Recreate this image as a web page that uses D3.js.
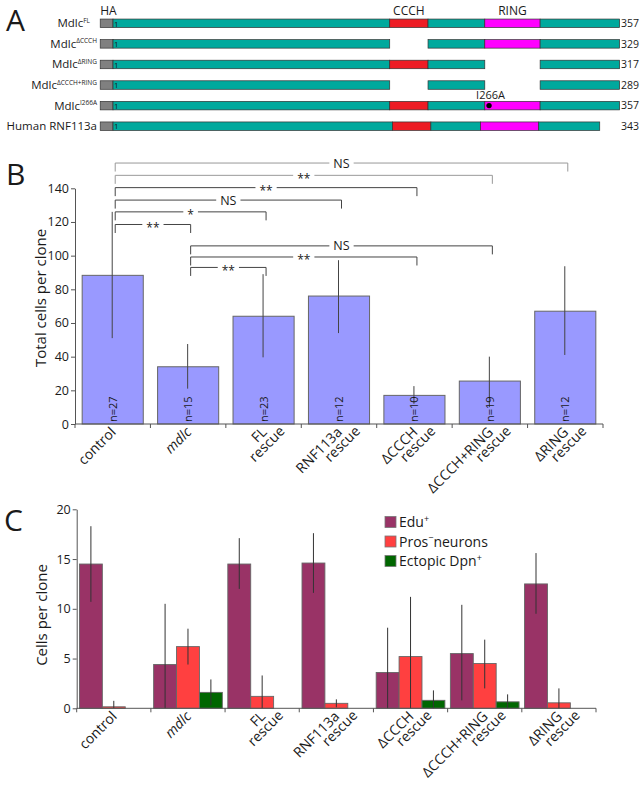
<!DOCTYPE html>
<html><head><meta charset="utf-8">
<script src="https://cdn.jsdelivr.net/npm/d3@7"></script>
<style>
body{margin:0;background:#fff}
svg{display:block}
text{font-family:'Open Sans',sans-serif;fill:#1a1a1a}
</style>
</head><body>
<svg id="c" width="641" height="789"></svg>
<script>
// ---------------- Panel A data ----------------
const constructBase = ["Mdlc","Mdlc","Mdlc","Mdlc","Mdlc","Human RNF113a"];
const constructSup = ["FL","ΔCCCH","ΔRING","ΔCCCH+RING","I266A",""];
const constructLength = [357,329,317,289,357,343];
const haLength = 9;
const constructSegments = [
  [[0,195,"linker"],[195,222,"CCCH"],[222,262,"linker"],[262,301,"RING"],[301,357,"linker"]],
  [[0,195,"linker"],[222,262,"linker"],[262,301,"RING"],[301,357,"linker"]],
  [[0,195,"linker"],[195,222,"CCCH"],[222,262,"linker"],[301,357,"linker"]],
  [[0,195,"linker"],[222,262,"linker"],[301,357,"linker"]],
  [[0,195,"linker"],[195,222,"CCCH"],[222,262,"linker"],[262,301,"RING"],[301,357,"linker"]],
  [[0,197,"linker"],[197,224,"CCCH"],[224,259,"linker"],[259,300,"RING"],[300,343,"linker"]]
];
const domainLabels = ["CCCH","RING"];
const domainLabelPos = [208.5,281.5];
const mutationRow = 4, mutationSite = 265, mutationLabel = "I266A";

// ---------------- Panel B data ----------------
const categories = ["control","mdlc","FL\nrescue","RNF113a\nrescue","ΔCCCH\nrescue","ΔCCCH+RING\nrescue","ΔRING\nrescue"];
const totalCells = [88.3,34,64,76,17,25.5,67];
const totalErrLow = [51,21,39.6,54,12,10,41];
const totalErrHigh = [126,47.5,89,97.3,22.5,40,93.7];
const cloneN = [27,15,23,12,10,19,12];
const yTicksB = [0,20,40,60,80,100,120,140];
const compFrom = [0,0,0,0,0,0,1,1,1];
const compTo = [6,5,4,3,2,1,5,4,2];
const compLevel = [155,147.7,140.4,133,126,118.5,105.8,99.2,93];
const compLabel = ["NS","**","**","NS","*","**","NS","**","**"];

// ---------------- Panel C data ----------------
const seriesKeys = ["edu","pros","dpn"];
const eduValues = [14.5,4.4,14.5,14.6,3.6,5.5,12.5];
const prosValues = [0.15,6.2,1.2,0.5,5.2,4.5,0.55];
const dpnValues = [0,1.6,0,0,0.8,0.65,0];
const eduErrLow = [10.7,0,12.0,11.6,0,0.8,9.5];
const eduErrHigh = [18.3,10.5,17.1,17.6,8.1,10.4,15.6];
const prosErrLow = [0,4.4,0,0.1,0,2.0,0];
const prosErrHigh = [0.75,8.0,3.3,0.9,11.2,6.9,2.0];
const dpnErrLow = [0,0.3,0,0,0,0,0];
const dpnErrHigh = [0,2.9,0,0,1.8,1.4,0];
const yTicksC = [0,5,10,15,20];

// ---------------- drawing ----------------
const svg = d3.select("#c");
const AX = "#555";

function panelLetter(t,x,y){
  svg.append("text").attr("x",x).attr("y",y).attr("font-size",30).text(t);
}

// ===== Panel A =====
panelLetter("A",6,31);
const gA = svg.append("g");
const xA = d3.scaleLinear().domain([0,357]).range([113,619.6]);
const yA = d3.scalePoint().domain(d3.range(constructBase.length)).range([23.3,126.2]);
const barH = 8.5;
const colorA = {HA:"#808080", linker:"#00A99D", CCCH:"#ED1C24", RING:"#FF00FF"};

gA.append("text").attr("x",xA(-haLength)).attr("y",14.5).attr("font-size",12).text("HA");
domainLabels.forEach((d,i)=>{
  gA.append("text").attr("x",xA(domainLabelPos[i])).attr("y",14.5).attr("text-anchor","middle").attr("font-size",12).text(d);
});

constructBase.forEach((name,i)=>{
  const cy = yA(i);
  const t = gA.append("text").attr("x",i===0 ? 90 : 97).attr("y",cy+4).attr("text-anchor","end").attr("font-size",11.5);
  t.append("tspan").text(name);
  if(constructSup[i]) t.append("tspan").attr("font-size",6.5).attr("dy",-4.5).text(constructSup[i]);
  gA.append("rect").attr("x",xA(-haLength)).attr("y",cy-barH/2).attr("width",xA(0)-xA(-haLength)).attr("height",barH)
    .attr("fill",colorA.HA).attr("stroke","#333").attr("stroke-width",0.7);
  constructSegments[i].forEach(s=>{
    gA.append("rect").attr("x",xA(s[0])).attr("y",cy-barH/2).attr("width",xA(s[1])-xA(s[0])).attr("height",barH)
      .attr("fill",colorA[s[2]]).attr("stroke","#333").attr("stroke-width",0.7);
  });
  gA.append("text").attr("x",xA(0)+1).attr("y",cy+3.2).attr("font-size",8).text("1");
  gA.append("text").attr("x",639).attr("y",cy+3.8).attr("text-anchor","end").attr("font-size",10.5).text(constructLength[i]);
});
gA.append("circle").attr("cx",xA(mutationSite)).attr("cy",yA(mutationRow)).attr("r",2.7).attr("fill","#000");
gA.append("text").attr("x",xA(mutationSite)+1.5).attr("y",yA(mutationRow)-6.5).attr("text-anchor","middle").attr("font-size",11).text(mutationLabel);

// ===== shared helpers =====
function xLabels(g, centerOf, axisY){
  categories.forEach((c,i)=>{
    const cx = centerOf(c);
    c.split("\n").forEach((ln,j)=>{
      g.append("text")
        .attr("transform",`translate(${cx+4+j*18},${axisY+9-j})rotate(-45)`)
        .attr("text-anchor","end").attr("font-size",14)
        .style("font-style", i===1 ? "italic" : null)
        .text(ln);
    });
  });
}
function styleAxis(sel){
  sel.selectAll("path,line").attr("stroke",AX).attr("stroke-width",1);
  sel.selectAll("text").attr("font-size",12.5).style("font-family","'Open Sans',sans-serif").attr("fill","#1a1a1a");
}

// ===== Panel B =====
panelLetter("B",6,185);
const gB = svg.append("g");
const yB = d3.scaleLinear().domain([0,140]).range([424,188.3]);
const xB = d3.scaleBand().domain(categories).range([75,603]).paddingInner(0.19).paddingOuter(0.095);
const cB = c => xB(c)+xB.bandwidth()/2;

gB.append("g").attr("transform","translate(75,0)")
  .call(d3.axisLeft(yB).tickValues(yTicksB).tickSize(4).tickSizeOuter(0).tickPadding(2))
  .call(styleAxis);

gB.selectAll("rect.bar").data(categories).enter().append("rect")
  .attr("x",c=>xB(c)).attr("width",xB.bandwidth())
  .attr("y",(c,i)=>yB(totalCells[i])).attr("height",(c,i)=>yB(0)-yB(totalCells[i]))
  .attr("fill","#9999FF").attr("stroke","#666").attr("stroke-width",1);

categories.forEach((c,i)=>{
  gB.append("line").attr("x1",cB(c)-0.5).attr("x2",cB(c)-0.5)
    .attr("y1",yB(totalErrLow[i])).attr("y2",yB(totalErrHigh[i])).attr("stroke","#444").attr("stroke-width",1);
  gB.append("text").attr("transform",`translate(${cB(c)+4},${yB(0)-2})rotate(-90)`)
    .attr("font-size",11).attr("fill","#333").text("n="+cloneN[i]);
});

const stepB = xB.step();
gB.append("line").attr("x1",75).attr("x2",603).attr("y1",yB(0)).attr("y2",yB(0)).attr("stroke",AX);
d3.range(categories.length+1).forEach(k=>{
  const xx = 75 + k*stepB;
  gB.append("line").attr("x1",xx).attr("x2",xx).attr("y1",yB(0)).attr("y2",yB(0)+4).attr("stroke",AX);
});
xLabels(gB, cB, yB(0));

gB.append("text").attr("transform","translate(46,298)rotate(-90)").attr("text-anchor","middle").attr("font-size",15).text("Total cells per clone");

// significance brackets
const drop = 8.5;
const gBr = gB.append("g"), gBt = gB.append("g");
compFrom.forEach((f,k)=>{
  const xa = cB(categories[f])+2.5, xb = cB(categories[compTo[k]])+2.5;
  const y = yB(compLevel[k]);
  const col = k<2 ? "#999" : "#444";
  const mid = (xa+xb)/2;
  const isNS = compLabel[k]==="NS";
  const t = gBt.append("text").attr("x",mid).attr("text-anchor","middle")
    .attr("font-size", isNS ? 12.5 : 12)
    .attr("y", isNS ? y+4.5 : y+7.5).attr("fill","#333").text(compLabel[k]);
  const w = t.node().getComputedTextLength()/2 + 4;
  gBr.append("path").attr("fill","none").attr("stroke",col).attr("stroke-width",1)
    .attr("d",`M${xa},${y+drop}V${y}H${mid-w}M${mid+w},${y}H${xb}V${y+drop}`);
});

// ===== Panel C =====
panelLetter("C",4,531);
const gC = svg.append("g");
const yC = d3.scaleLinear().domain([0,20]).range([708.3,509.3]);
const x0 = d3.scaleBand().domain(categories).range([76.7,596]).paddingInner(0.074).paddingOuter(0.037);
const x1 = d3.scaleBand().domain(seriesKeys).range([0,x0.bandwidth()]);
const cC = c => x0(c)+x0.bandwidth()/2;
const seriesVals = {edu:eduValues, pros:prosValues, dpn:dpnValues};
const seriesLow = {edu:eduErrLow, pros:prosErrLow, dpn:dpnErrLow};
const seriesHigh = {edu:eduErrHigh, pros:prosErrHigh, dpn:dpnErrHigh};
const colorC = {edu:"#993366", pros:"#FF4040", dpn:"#006600"};

gC.append("g").attr("transform","translate(76.7,0)")
  .call(d3.axisLeft(yC).tickValues(yTicksC).tickSize(4).tickSizeOuter(0).tickPadding(2))
  .call(styleAxis);

categories.forEach((c,i)=>{
  seriesKeys.forEach(s=>{
    const v = seriesVals[s][i];
    if(v>0){
      gC.append("rect").attr("x",x0(c)+x1(s)).attr("width",x1.bandwidth())
        .attr("y",yC(v)).attr("height",yC(0)-yC(v))
        .attr("fill",colorC[s]).attr("stroke","#666").attr("stroke-width",0.9);
    }
  });
});
categories.forEach((c,i)=>{
  seriesKeys.forEach(s=>{
    const hi = seriesHigh[s][i];
    if(hi>0){
      const xx = x0(c)+x1(s)+x1.bandwidth()/2;
      gC.append("line").attr("x1",xx).attr("x2",xx).attr("y1",yC(seriesLow[s][i])).attr("y2",yC(hi))
        .attr("stroke","#333").attr("stroke-width",1);
    }
  });
});
const stepC = x0.step();
gC.append("line").attr("x1",76.7).attr("x2",596).attr("y1",yC(0)).attr("y2",yC(0)).attr("stroke",AX);
d3.range(categories.length+1).forEach(k=>{
  const xx = 76.7 + k*stepC;
  gC.append("line").attr("x1",xx).attr("x2",xx).attr("y1",yC(0)).attr("y2",yC(0)+4).attr("stroke",AX);
});
xLabels(gC, cC, yC(0));
gC.append("text").attr("transform","translate(47,615)rotate(-90)").attr("text-anchor","middle").attr("font-size",15).text("Cells per clone");

// legend
const legendMain = ["Edu","Pros","Ectopic Dpn"];
const legendSup = ["+","−","+"];
const legendTail = ["","neurons",""];
seriesKeys.forEach((s,i)=>{
  const ly = 522 + i*19.5;
  gC.append("rect").attr("x",385).attr("y",ly-5.5).attr("width",11).attr("height",11)
    .attr("fill",colorC[s]).attr("stroke","#777").attr("stroke-width",0.8);
  const t = gC.append("text").attr("x",399).attr("y",ly+5).attr("font-size",14);
  t.append("tspan").text(legendMain[i]);
  t.append("tspan").attr("font-size",9).attr("dy",-5.5).text(legendSup[i]);
  if(legendTail[i]) t.append("tspan").attr("dy",5.5).text(legendTail[i]);
});
</script>
</body></html>
